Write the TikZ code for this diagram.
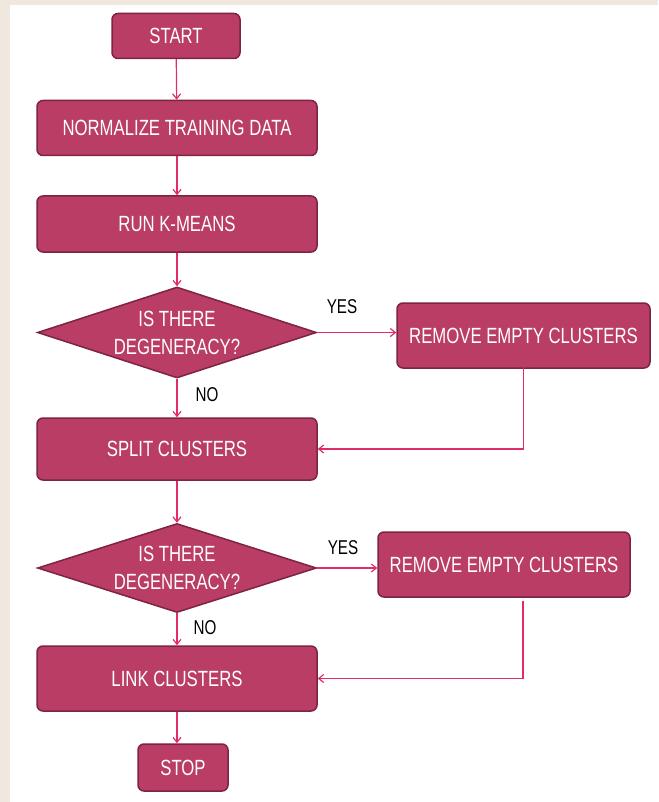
\documentclass[tikz,border=0pt]{standalone}
\usepackage{fontspec}
\setmainfont{Liberation Sans}[FakeStretch=0.76]
\usetikzlibrary{arrows.meta,positioning,shapes.geometric}
\definecolor{berry}{RGB}{185,61,101}
\definecolor{berrydark}{RGB}{125,35,68}
\definecolor{linkpink}{RGB}{226,44,104}
\definecolor{paper}{RGB}{240,232,222}

\begin{document}
\begin{tikzpicture}[x=1pt,y=-1pt,
    box/.style={draw=berrydark,fill=berry,line width=1.5pt,rounded corners=6pt,inner sep=0pt,text=white,font=\fontsize{22}{28}\selectfont,align=center},
    decision/.style={diamond,aspect=3.1,draw=berrydark,fill=berry,line width=1.5pt,inner sep=0pt,text=white,font=\fontsize{22}{28}\selectfont,align=center,minimum width=279pt},
    flow/.style={draw=linkpink,line width=1.2pt,-{Straight Barb[length=5pt,width=8pt]}},
    lbl/.style={font=\fontsize{20}{24}\selectfont}]

    \fill[paper] (0,0) rectangle (658,802);
    \fill[white] (10,5) rectangle (658,802);

    \node[box,minimum width=128pt,minimum height=45pt] (start) at (176,36) {START};
    \node[box,minimum width=280pt,minimum height=55pt] (norm) at (177,128) {NORMALIZE TRAINING DATA};
    \node[box,minimum width=280pt,minimum height=56pt] (kmeans) at (177,224) {RUN K-MEANS};
    \node[decision,minimum height=91pt] (deg1) at (177,332.5) {IS THERE\\DEGENERACY?};
    \node[box,minimum width=253pt,minimum height=65pt] (rem1) at (523.5,335.5) {REMOVE EMPTY CLUSTERS};
    \node[box,minimum width=280pt,minimum height=62pt] (split) at (177,449) {SPLIT CLUSTERS};
    \node[decision,minimum height=89pt] (deg2) at (177,568) {IS THERE\\DEGENERACY?};
    \node[box,minimum width=252pt,minimum height=65pt] (rem2) at (504,564.5) {REMOVE EMPTY CLUSTERS};
    \node[box,minimum width=280pt,minimum height=65pt] (link) at (177,678.5) {LINK CLUSTERS};
    \node[box,minimum width=90pt,minimum height=47pt] (stop) at (183,767.5) {STOP};

    \node[lbl] (yes1) at (342,307) {YES};
    \node[lbl] (no1) at (207,395) {NO};
    \node[lbl] (yes2) at (343,548) {YES};
    \node[lbl] (no2) at (205,628) {NO};

    \draw[flow] (start) -- (norm);
    \draw[flow] (norm) -- (kmeans);
    \draw[flow] (kmeans) -- (deg1);
    \draw[flow] (deg1.east) -- (deg1.east -| rem1.west);
    \draw[flow] (deg1) -- (split);
    \draw[flow] ([yshift=2pt]rem1.south) |- (split.east);
    \draw[flow] (split) -- (deg2);
    \draw[flow] (deg2.east) -- (deg2.east -| rem2.west);
    \draw[flow] (deg2) -- (link);
    \draw[flow] ([shift={(19,3)}]rem2.south) |- (link.east);
    \draw[flow] (link.south) -- (link.south |- stop.north);
\end{tikzpicture}
\end{document}
